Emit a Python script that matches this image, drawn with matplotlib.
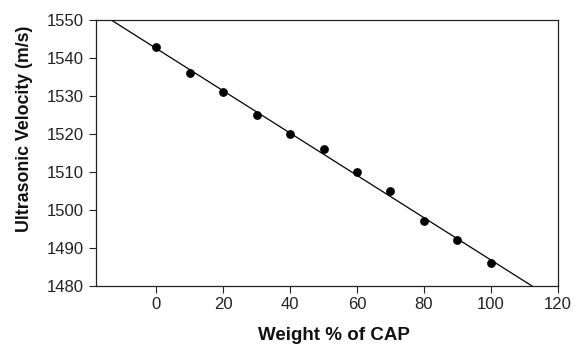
import numpy as np
import matplotlib
matplotlib.use("Agg")
import matplotlib.pyplot as plt

plt.rcParams["font.family"] = ["Liberation Sans", "DejaVu Sans"]

# weight % of CAP vs. ultrasonic velocity
weight_pct = [0, 10, 20, 30, 40, 50, 60, 70, 80, 90, 100]
velocity = [1543, 1536, 1531, 1525, 1520, 1516, 1510, 1505, 1497, 1492, 1486]
x_ticks = [0, 20, 40, 60, 80, 100, 120]
y_ticks = [1480, 1490, 1500, 1510, 1520, 1530, 1540, 1550]

fig = plt.figure(figsize=(5.75, 3.45), dpi=100)
ax = fig.add_axes([0.167, 0.172, 0.803, 0.770])

# least-squares fit line through the points
slope, icept = np.polyfit(weight_pct, velocity, 1)
xs = np.array([-20, 125])
ax.plot(xs, slope * xs + icept, color="black", lw=0.9)
ax.plot(weight_pct, velocity, "o", color="black", ms=5.3, mec="black")

ax.set_xlim(-18, 120)
ax.set_ylim(1480, 1550)
ax.set_xticks(x_ticks)
ax.set_yticks(y_ticks)
ax.tick_params(direction="out", length=5, width=0.8, pad=3.5, labelsize=12,
               colors="#222222", top=False, right=False)
for s in ax.spines.values():
    s.set_linewidth(0.9)
    s.set_color("#222222")

ax.set_xlabel("Weight % of CAP", fontsize=13.5, fontweight="bold", color="#111111")
ax.set_ylabel("Ultrasonic Velocity (m/s)", fontsize=12.8, fontweight="bold", color="#111111")
ax.xaxis.set_label_coords(0.515, -0.157)
ax.yaxis.set_label_coords(-0.137, 0.59)

fig.savefig("out.png", dpi=100)
